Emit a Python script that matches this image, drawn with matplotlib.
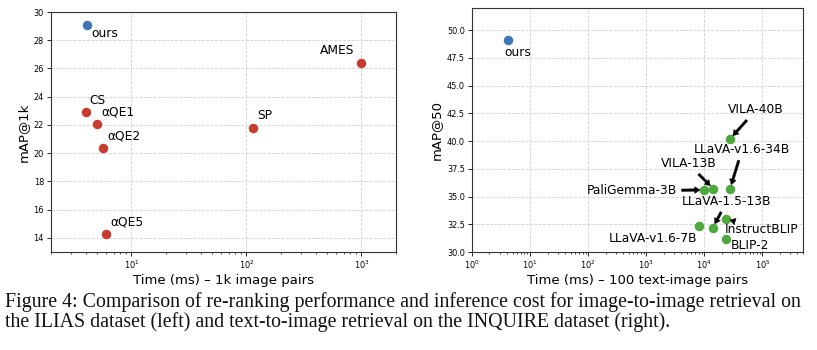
import matplotlib
matplotlib.use("Agg")
from matplotlib import pyplot as plt

# Left panel: ILIAS, image-to-image re-ranking
left_names = ["ours", "CS", "αQE1", "αQE2", "αQE5", "SP", "AMES"]
left_time = [4.15, 4.0, 5.05, 5.7, 6.05, 114, 1000]
left_map = [29.1, 22.9, 22.1, 20.4, 14.3, 21.8, 26.4]

# Right panel: INQUIRE, text-to-image re-ranking
right_names = ["ours", "VILA-40B", "LLaVA-v1.6-34B", "VILA-13B", "PaliGemma-3B",
               "LLaVA-1.5-13B", "LLaVA-v1.6-7B", "InstructBLIP", "BLIP-2"]
right_time = [4.1, 27700, 27700, 14300, 10000, 14000, 8100, 23500, 23500]
right_map = [49.1, 40.2, 35.7, 35.7, 35.6, 32.2, 32.3, 33.0, 31.2]

BLUE = "#3f76b8"
RED = "#c63c2f"
GREEN = "#4ea83e"

# label placement: (dx px, dy px, ha, arrow?)
left_labels = {
    "ours": (4, -9, "left", False),
    "CS": (4, 12, "left", False),
    "αQE1": (4, 12, "left", False),
    "αQE2": (4, 12, "left", False),
    "αQE5": (4, 12, "left", False),
    "SP": (4, 12, "left", False),
    "AMES": (-7, 12, "right", False),
}
right_labels = {
    "ours": (-3, -12, "left", False),
    "VILA-40B": (26, 29, "center", True),
    "LLaVA-v1.6-34B": (12, 39, "center", True),
    "VILA-13B": (-25, 25, "center", True),
    "PaliGemma-3B": (-27, -1, "right", True),
    "LLaVA-1.5-13B": (14, 26, "center", True),
    "LLaVA-v1.6-7B": (-2, -12, "right", False),
    "InstructBLIP": (-1, -11, "left", True),
    "BLIP-2": (5, -7, "left", False),
}

plt.rcParams['font.family'] = ['DejaVu Sans']

fig = plt.figure(figsize=(8.17, 3.5), dpi=100)
ax1 = fig.add_axes([0.0624, 0.28, 0.4223, 0.6857])
ax2 = fig.add_axes([0.5777, 0.28, 0.4052, 0.697])


def style(ax):
    ax.set_xscale("log")
    ax.grid(True, which="major", linestyle="--", color="#d0d0d0", linewidth=0.6)
    ax.set_axisbelow(True)
    ax.tick_params(axis="both", which="major", labelsize=5.9, length=3, width=0.6, pad=2)
    ax.tick_params(axis="both", which="minor", length=1.6, width=0.5)
    for s in ax.spines.values():
        s.set_linewidth(0.8)
        s.set_color("#333333")


style(ax1)
for name, x, y in zip(left_names, left_time, left_map):
    c = BLUE if name == "ours" else RED
    ax1.scatter(x, y, s=34, color=c, zorder=3)
    dx, dy, ha, arr = left_labels[name]
    ax1.annotate(name, (x, y), xytext=(dx, dy), textcoords="offset pixels",
                 ha=ha, va="center", fontsize=8.8)
ax1.set_xlim(2, 2000)
ax1.set_ylim(13, 30)
ax1.set_yticks(range(14, 31, 2))
ax1.set_xlabel("Time (ms) – 1k image pairs", fontsize=9.5, labelpad=2)
ax1.set_ylabel("mAP@1k", fontsize=9.5, labelpad=3)

style(ax2)
for name, x, y in zip(right_names, right_time, right_map):
    c = BLUE if name == "ours" else GREEN
    ax2.scatter(x, y, s=34, color=c, zorder=3)
    dx, dy, ha, arr = right_labels[name]
    props = None
    if arr:
        props = dict(arrowstyle="simple,head_width=0.55,head_length=0.45,tail_width=0.2",
                     facecolor="black", edgecolor="black", lw=0.3,
                     shrinkA=1, shrinkB=3)
    ax2.annotate(name, (x, y), xytext=(dx, dy), textcoords="offset pixels",
                 ha=ha, va="center", fontsize=8.8, arrowprops=props, zorder=4)
ax2.set_xlim(1, 5e5)
ax2.set_ylim(30, 52)
ax2.set_yticks([30, 32.5, 35, 37.5, 40, 42.5, 45, 47.5, 50])
ax2.set_yticklabels(["30.0", "32.5", "35.0", "37.5", "40.0", "42.5", "45.0", "47.5", "50.0"])
ax2.set_xlabel("Time (ms) – 100 text-image pairs", fontsize=9.5, labelpad=2)
ax2.set_ylabel("mAP@50", fontsize=9.5, labelpad=3)

cap1 = ("Figure 4: Comparison of re-ranking performance and inference cost for "
        "image-to-image retrieval on")
cap2 = "the ILIAS dataset (left) and text-to-image retrieval on the INQUIRE dataset (right)."
fig.text(5 / 817, 1 - 302 / 350, cap1, family="Liberation Serif", fontsize=14.3,
         va="center", color="#111111")
fig.text(5 / 817, 1 - 322 / 350, cap2, family="Liberation Serif", fontsize=14.3,
         va="center", color="#111111")

fig.savefig("out.png", dpi=100)
